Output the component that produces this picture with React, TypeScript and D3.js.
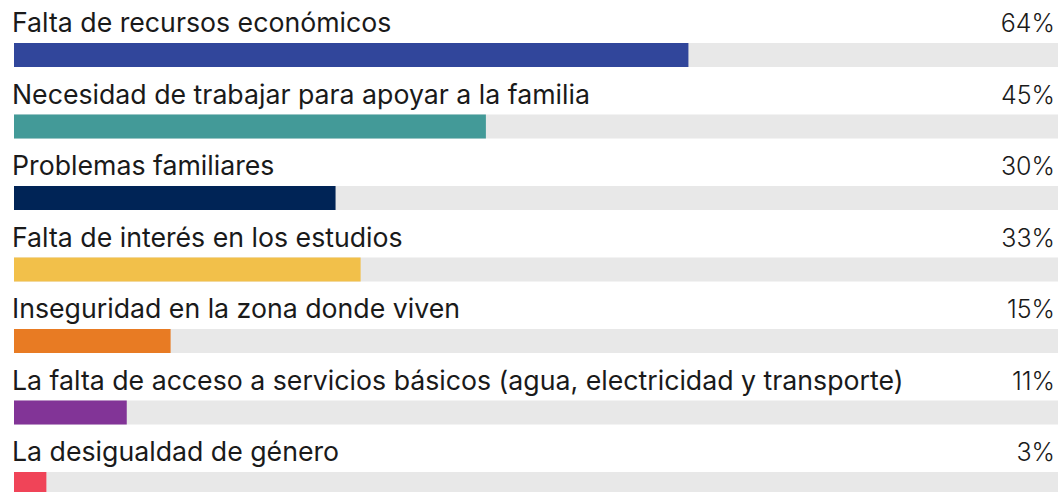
import React from 'react';
import * as d3 from 'd3';

const categories = [
  'Falta de recursos económicos',
  'Necesidad de trabajar para apoyar a la familia',
  'Problemas familiares',
  'Falta de interés en los estudios',
  'Inseguridad en la zona donde viven',
  'La falta de acceso a servicios básicos (agua, electricidad y transporte)',
  'La desigualdad de género',
];
const values = [64.6, 45.2, 30.8, 33.2, 15.0, 10.8, 3.1];
const valueLabels = ['64%', '45%', '30%', '33%', '15%', '11%', '3%'];
const colors = ['#31469b', '#439a98', '#002456', '#f2c04a', '#e87b23', '#823497', '#f04458'];

const W = 1058;
const H = 492;

export default function App() {
  const x = d3.scaleLinear().domain([0, 100]).range([14, W]);
  const y = d3.scaleBand<string>().domain(categories).range([0, 71.5 * categories.length]);
  const barH = 24;

  return (
    <svg
      width={W}
      height={H}
      style={{ position: 'absolute', left: 0, top: 0, background: '#fff' }}
      fontFamily="Inter, sans-serif"
    >
      {categories.map((c, i) => {
        const top = y(c)!;
        return (
          <g key={c}>
            <text x={12} y={top + 32} fontSize={26.7} fill="#1a1a1a">
              {c}
            </text>
            <text x={1055} y={top + 32} fontSize={25} fontWeight={300} textAnchor="end" fill="#1a1a1a">
              {valueLabels[i]}
            </text>
            <rect x={x(0)} y={top + 43} width={x(100) - x(0)} height={barH} fill="#e8e8e8" />
            <rect x={x(0)} y={top + 43} width={x(values[i]) - x(0)} height={barH} fill={colors[i]} />
          </g>
        );
      })}
    </svg>
  );
}
